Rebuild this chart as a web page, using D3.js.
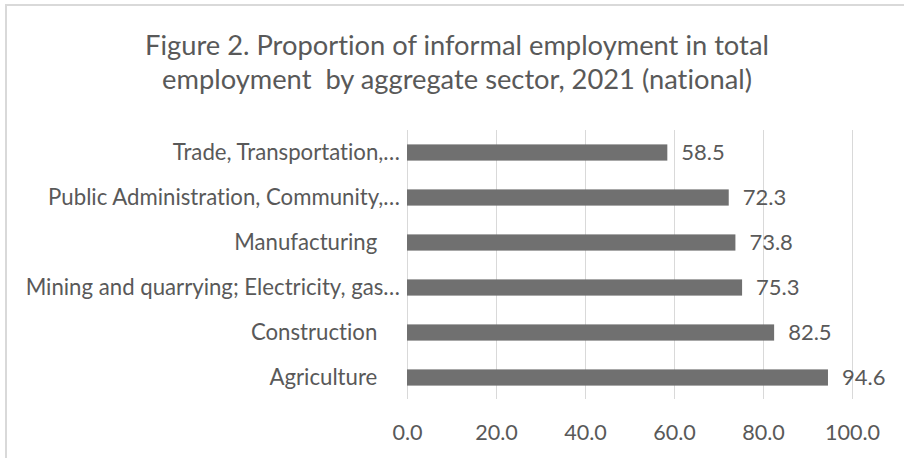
<!DOCTYPE html>
<html>
<head>
<meta charset="utf-8">
<script src="https://cdn.jsdelivr.net/npm/d3@7"></script>
<style>
  html, body { margin: 0; padding: 0; background: #fff; }
  svg { display: block; }
  text { font-family: Lato, "Open Sans", sans-serif; fill: #595959; font-variant-ligatures: none; }
</style>
</head>
<body>
<div id="chart"></div>
<script>
// Sector labels, top to bottom, as shown on the category axis
const sectors = [
  "Trade, Transportation,\u2026",
  "Public Administration, Community,\u2026",
  "Manufacturing    ",
  "Mining and quarrying; Electricity, gas\u2026",
  "Construction    ",
  "Agriculture    "
];
// Share of informal employment in total employment (%)
const informalShare = [58.5, 72.3, 73.8, 75.3, 82.5, 94.6];
// Value axis ticks
const xTicks = [0, 20, 40, 60, 80, 100];
const titleLines = [
  "Figure 2. Proportion of informal employment in total",
  "employment  by aggregate sector, 2021 (national)"
];

const W = 904, H = 458;
const svg = d3.select("#chart").append("svg")
  .attr("width", W).attr("height", H);

svg.append("rect").attr("width", W).attr("height", H).attr("fill", "#fff");

// chart frame (top and left edges visible)
svg.append("line").attr("x1", 5).attr("x2", W).attr("y1", 5).attr("y2", 5)
  .attr("stroke", "#d9d9d9").attr("stroke-width", 2);
svg.append("line").attr("x1", 6).attr("x2", 6).attr("y1", 4).attr("y2", H)
  .attr("stroke", "#d9d9d9").attr("stroke-width", 2);

// title
svg.append("g").selectAll("text").data(titleLines).join("text")
  .attr("x", 457)
  .attr("y", (d, i) => 55 + i * 34)
  .attr("text-anchor", "middle")
  .style("white-space", "pre")
  .attr("font-size", 27.3)
  .text(d => d);

const x = d3.scaleLinear().domain([0, 100]).range([407, 852]);
const y = d3.scaleBand().domain(sectors).range([130, 400])
  .paddingInner(0.64).paddingOuter(0.32);

// vertical gridlines
svg.append("g").selectAll("line").data(xTicks).join("line")
  .attr("x1", d => Math.round(x(d)) + 0.5).attr("x2", d => Math.round(x(d)) + 0.5)
  .attr("y1", 130).attr("y2", 399)
  .attr("stroke", "#d9d9d9").attr("stroke-width", 1);

// value axis tick labels
const xAxis = d3.axisBottom(x).tickValues(xTicks).tickFormat(d3.format(".1f"))
  .tickSize(0).tickPadding(0);
const gx = svg.append("g").attr("transform", "translate(0,440)").call(xAxis);
gx.select(".domain").remove();
gx.attr("font-family", null).attr("font-size", null);
gx.selectAll("text").attr("dy", null).attr("y", 0)
  .attr("font-size", 21.6).attr("fill", "#595959");

// bars
const rows = sectors.map((s, i) => ({ s, v: informalShare[i] }));
svg.append("g").selectAll("rect").data(rows).join("rect")
  .attr("x", x(0))
  .attr("y", d => y(d.s))
  .attr("width", d => x(d.v) - x(0))
  .attr("height", y.bandwidth())
  .attr("fill", "#707070");

// category labels
const yAxis = d3.axisLeft(y).tickSize(0).tickPadding(7);
const gy = svg.append("g").attr("transform", `translate(${x(0)},0)`).call(yAxis);
gy.select(".domain").remove();
gy.attr("font-family", null).attr("font-size", null);
gy.selectAll("text").attr("dy", "0.35em").attr("font-size", 22.2)
  .attr("fill", "#595959").style("white-space", "pre");

// data labels
svg.append("g").selectAll("text").data(rows).join("text")
  .attr("x", d => x(d.v) + 14)
  .attr("y", d => y(d.s) + y.bandwidth() / 2)
  .attr("dy", "0.36em")
  .attr("font-size", 22)
  .text(d => d3.format(".1f")(d.v));
</script>
</body>
</html>
